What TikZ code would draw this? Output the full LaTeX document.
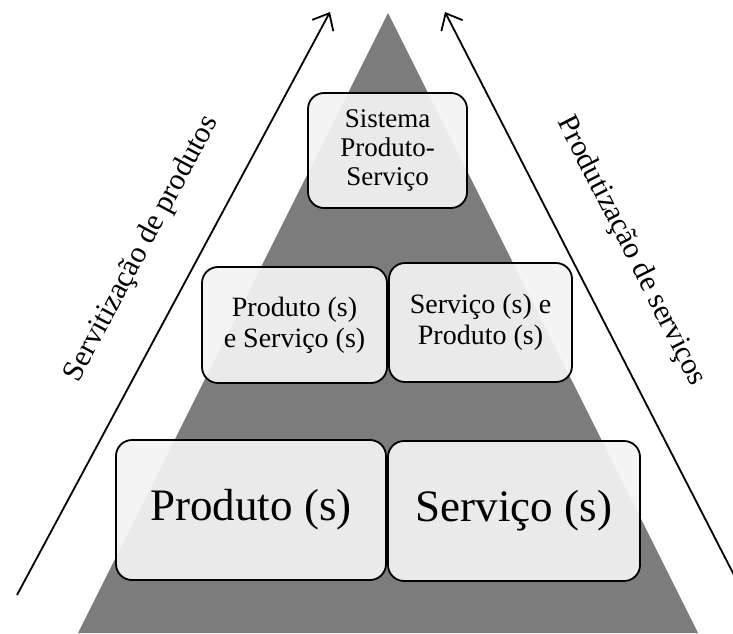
\documentclass[tikz,border=0pt]{standalone}
\usepackage{fontspec}
\setmainfont{Liberation Serif}
\usetikzlibrary{arrows.meta}
\definecolor{pyrgray}{RGB}{124,124,124}
\definecolor{boxgray}{RGB}{243,243,243}
\tikzset{block/.style={draw,line width=1.8pt,rounded corners=16pt,fill=boxgray,fill opacity=0.93,text opacity=1,align=center,inner sep=0pt},
side/.style={font=\fontsize{30}{33}\selectfont,inner sep=0pt}}

\begin{document}
\begin{tikzpicture}[x=1pt,y=-1pt,>={Straight Barb[length=14pt,width=24pt]},
mid/.style={block,font=\fontsize{28}{31}\selectfont},big/.style={block,font=\fontsize{45}{48}\selectfont}]
\useasboundingbox (0,0) rectangle (733,633);
\coordinate (top) at (388,13);
\coordinate (bl) at (78,633);
\coordinate (br) at (698,633);
\fill[pyrgray] (top) -- (bl) -- (br) -- cycle;

\node[block,font=\fontsize{27}{29}\selectfont,minimum width=159pt,minimum height=115pt] (sps) at (387.5,150.5) {Sistema\\Produto-\\Serviço};
\node[mid,minimum width=185pt,minimum height=116pt] (ps) at (294.5,325) {Produto (s)\\e Serviço (s)};
\node[mid,minimum width=183pt,minimum height=119pt] (sp) at (480.5,322.5) {Serviço (s) e\\Produto (s)};
\node[big,minimum width=270pt,minimum height=140pt] (prod) at (251,510) {Produto (s)};
\node[big,minimum width=252pt,minimum height=140pt] (serv) at (514,511) {Serviço (s)};

\coordinate (a1) at (17,595);
\coordinate (a2) at (330,12);
\coordinate (b1) at (735,577);
\coordinate (b2) at (445,12);
\draw[->,line width=1.8pt] (a1) -- (a2);
\draw[->,line width=1.8pt] (b1) -- (b2);
\node[side,rotate=61.8] (servit) at (142,249) {Servitização de produtos};
\node[side,rotate=-63.1] (produt) at (631,251) {Produtização de serviços};
\end{tikzpicture}
\end{document}
